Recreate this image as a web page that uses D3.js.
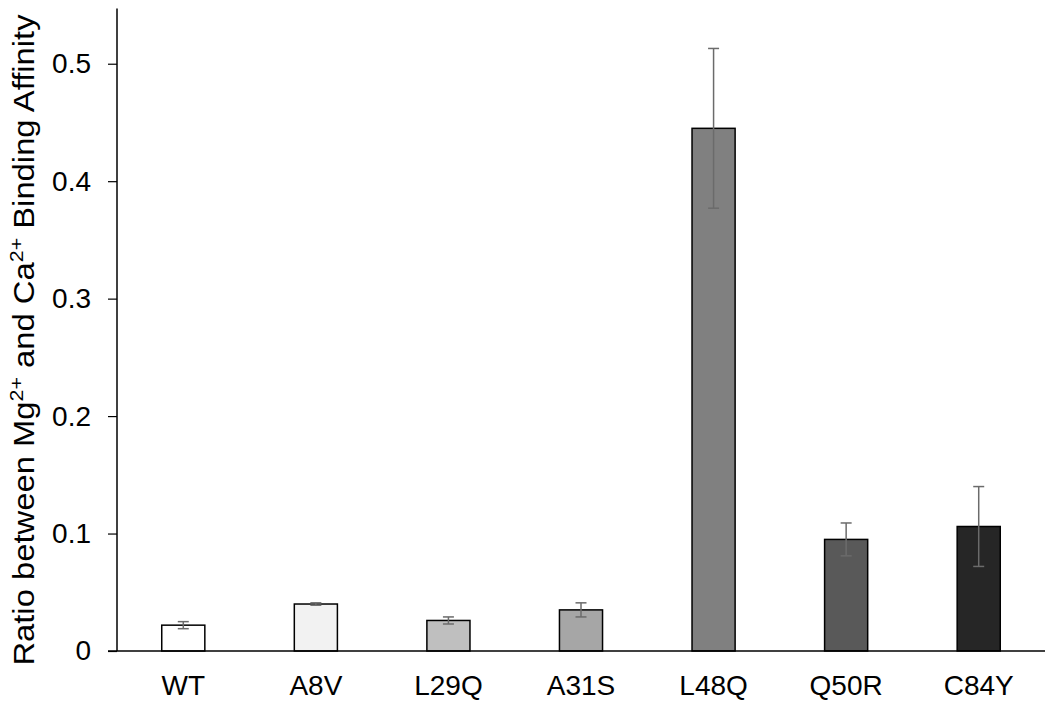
<!DOCTYPE html>
<html>
<head>
<meta charset="utf-8">
<script src="https://cdn.jsdelivr.net/npm/d3@7"></script>
<style>
  body { margin: 0; background: #fff; }
  svg { display: block; font-family: "Liberation Sans", Arial, sans-serif; }
</style>
</head>
<body>
<svg id="chart" width="1050" height="703"></svg>
<script>
const categories = ["WT", "A8V", "L29Q", "A31S", "L48Q", "Q50R", "C84Y"];
const values = [0.022, 0.040, 0.026, 0.035, 0.445, 0.095, 0.106];
const errors = [0.003, 0.001, 0.003, 0.006, 0.068, 0.014, 0.034];
const fills = ["#ffffff", "#f2f2f2", "#bfbfbf", "#a6a6a6", "#808080", "#595959", "#262626"];
const yTicks = [0, 0.1, 0.2, 0.3, 0.4, 0.5];

const svg = d3.select("#chart");
const mLeft = 117, mRight = 1045, mTop = 5, mBottom = 651;

const x = d3.scaleBand().domain(categories).range([mLeft, mRight]).paddingInner(0.675).paddingOuter(0.3375);
const y = d3.scaleLinear().domain([0, 0.55]).range([mBottom, mTop]);

// bars
svg.selectAll("rect.bar").data(categories).enter().append("rect")
  .attr("class", "bar")
  .attr("x", d => x(d))
  .attr("width", x.bandwidth())
  .attr("y", (d, i) => y(values[i]))
  .attr("height", (d, i) => y(0) - y(values[i]))
  .attr("fill", (d, i) => fills[i])
  .attr("stroke", "#000")
  .attr("stroke-width", 1.5);

// error bars
const eg = svg.append("g").attr("stroke", "#6b6b6b").attr("stroke-width", 1.5);
categories.forEach((c, i) => {
  const cx = x(c) + x.bandwidth() / 2;
  const hi = y(values[i] + errors[i]), lo = y(values[i] - errors[i]);
  eg.append("line").attr("x1", cx).attr("x2", cx).attr("y1", hi).attr("y2", lo);
  eg.append("line").attr("x1", cx - 5.5).attr("x2", cx + 5.5).attr("y1", hi).attr("y2", hi);
  eg.append("line").attr("x1", cx - 5.5).attr("x2", cx + 5.5).attr("y1", lo).attr("y2", lo);
});

// y axis
const yAxis = d3.axisLeft(y).tickValues(yTicks)
  .tickFormat(d => d === 0 ? "0" : d3.format(".1f")(d))
  .tickSizeInner(9).tickSizeOuter(0).tickPadding(17);
const ya = svg.append("g").attr("transform", `translate(${mLeft},0)`).call(yAxis);
ya.select(".domain").attr("stroke", "#000").attr("stroke-width", 1.5)
  .attr("d", `M0,${y(0.547)}V${mBottom}`);
ya.selectAll(".tick line").attr("stroke", "#000").attr("stroke-width", 1.2);
ya.selectAll(".tick text").attr("font-size", 28).attr("fill", "#000")
  .attr("font-family", "'Liberation Sans', Arial, sans-serif");

// x axis
const xAxis = d3.axisBottom(x).tickSize(0).tickPadding(24);
const xa = svg.append("g").attr("transform", `translate(0,${mBottom})`).call(xAxis);
xa.select(".domain").attr("stroke", "#000").attr("stroke-width", 1.5)
  .attr("d", `M${mLeft - 9},0H${mRight}`);
xa.selectAll(".tick text").attr("font-size", 28).attr("fill", "#000")
  .attr("font-family", "'Liberation Sans', Arial, sans-serif");

// y axis title
const title = svg.append("text")
  .attr("transform", `translate(34,340) rotate(-90) scale(1.13,1)`)
  .attr("text-anchor", "middle")
  .attr("font-size", 29)
  .attr("fill", "#000");
title.append("tspan").text("Ratio between Mg");
title.append("tspan").attr("dy", -11).attr("font-size", 19).text("2+");
title.append("tspan").attr("dy", 11).text(" and Ca");
title.append("tspan").attr("dy", -11).attr("font-size", 19).text("2+");
title.append("tspan").attr("dy", 11).text(" Binding Affinity");
</script>
</body>
</html>
